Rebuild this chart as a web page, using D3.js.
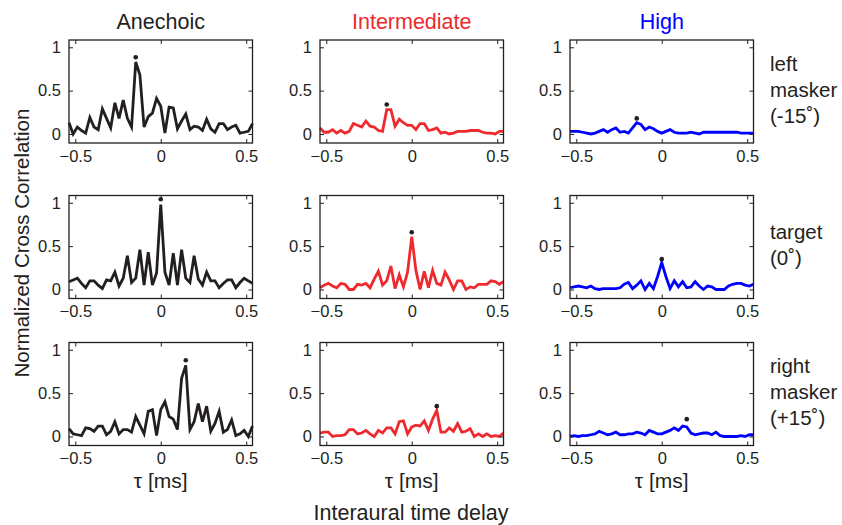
<!DOCTYPE html>
<html lang="en">
<head>
<meta charset="utf-8">
<style>
  body { margin: 0; background: white; }
  svg { font-family: 'Liberation Sans', Arial, sans-serif; fill: #231f20; }
  .frame { fill: none; stroke: #231f20; stroke-width: 1.3px; }
  .axis path { display: none; }
  .axis line { stroke: #231f20; stroke-width: 1px; }
  .axis text { font-size: 16.5px; fill: #231f20; font-family: 'Liberation Sans', Arial, sans-serif; }
  .trace { fill: none; stroke-width: 2.8px; stroke-linejoin: miter; }
</style>
</head>
<body>
<svg width="842" height="525"></svg>
<script src="https://d3js.org/d3.v7.min.js"></script>
<script>
// lag in samples, one sample = 0.0244 ms
const lagSamples = d3.range(-22, 23)
const msPerSample = 0.0244

const conditions = ["Anechoic", "Intermediate", "High"]
const conditionColors = ["#231f20", "#ee2a2e", "#0000ff"]
const sources = [["left", "masker", "(-15˚)"], ["target", "(0˚)"], ["right", "masker", "(+15˚)"]]

const anechoicLeft = [0.13,0.00,0.08,0.04,0.01,0.19,0.08,0.05,0.29,0.18,0.07,0.36,0.18,0.39,0.18,0.08,0.83,0.68,0.08,0.20,0.24,0.41,
  0.32,0.01,0.31,0.30,0.06,0.15,0.23,0.05,0.09,0.08,0.04,0.17,0.06,0.02,0.12,0.12,0.05,0.08,0.10,0.01,0.02,0.03,0.12]
const anechoicTarget = [0.09,0.11,0.13,0.07,0.02,0.10,0.10,0.05,0.01,0.11,0.10,0.20,0.04,0.13,0.39,0.08,0.13,0.46,0.05,0.43,0.05,0.19,
  0.98,0.20,0.05,0.42,0.05,0.46,0.13,0.08,0.39,0.12,0.05,0.20,0.10,0.10,0.02,0.07,0.11,0.11,0.02,0.08,0.13,0.10,0.07]
const anechoicRight = [0.09,0.03,0.02,0.01,0.10,0.09,0.06,0.12,0.12,0.02,0.06,0.17,0.03,0.08,0.08,0.05,0.23,0.13,0.03,0.29,0.31,0.01,
  0.31,0.40,0.23,0.20,0.08,0.67,0.82,0.08,0.17,0.38,0.17,0.35,0.06,0.15,0.29,0.05,0.08,0.19,0.01,0.03,0.07,0.00,0.12]

const intermediateLeft = [0.07,0.02,0.02,0.05,0.01,0.04,0.01,0.03,0.12,0.10,0.08,0.15,0.09,0.08,0.04,0.03,0.28,0.28,0.09,0.17,0.13,0.10,
  0.10,0.05,0.12,0.12,0.04,0.05,0.07,0.01,0.02,0.00,0.01,0.03,0.03,0.03,0.04,0.04,0.04,0.02,0.01,0.01,0.00,0.03,0.03]
const intermediateTarget = [0.02,0.05,0.07,0.04,0.02,0.07,0.06,0.00,0.00,0.06,0.05,0.07,0.02,0.12,0.21,0.05,0.10,0.27,0.01,0.17,0.03,0.20,
  0.61,0.22,0.00,0.21,0.02,0.22,0.07,0.05,0.20,0.11,0.00,0.10,0.10,0.00,0.03,0.02,0.06,0.06,0.06,0.10,0.09,0.06,0.09]
const intermediateRight = [0.04,0.05,0.05,0.00,0.01,0.01,0.02,0.08,0.08,0.03,0.04,0.07,0.03,0.00,0.07,0.04,0.10,0.10,0.03,0.17,0.18,0.03,
  0.11,0.13,0.12,0.18,0.07,0.20,0.30,0.05,0.05,0.10,0.06,0.15,0.05,0.06,0.09,0.00,0.03,0.00,0.03,0.00,0.01,0.00,0.04]

const highLeft = [0.03,0.03,0.03,0.02,0.01,0.00,0.01,0.03,0.05,0.02,0.05,0.07,0.02,0.03,0.01,0.07,0.13,0.11,0.05,0.08,0.06,0.03,
  0.01,0.03,0.05,0.02,0.01,0.01,0.01,0.02,0.01,0.00,0.02,0.02,0.02,0.02,0.02,0.02,0.02,0.02,0.02,0.01,0.01,0.01,0.01]
const highTarget = [0.02,0.03,0.04,0.03,0.02,0.04,0.01,0.00,0.01,0.01,0.01,0.01,0.02,0.06,0.08,0.01,0.05,0.10,0.00,0.07,0.01,0.15,
  0.31,0.15,0.01,0.10,0.03,0.09,0.02,0.03,0.09,0.04,0.00,0.04,0.03,0.00,0.00,0.00,0.04,0.06,0.07,0.07,0.05,0.04,0.06]
const highRight = [0.00,0.01,0.00,0.01,0.01,0.02,0.03,0.06,0.04,0.02,0.03,0.05,0.02,0.02,0.03,0.03,0.05,0.04,0.02,0.07,0.05,0.03,
  0.03,0.05,0.07,0.10,0.07,0.12,0.11,0.04,0.02,0.03,0.04,0.04,0.02,0.05,0.01,0.00,0.00,0.00,0.00,0.01,0.00,0.02,0.02]

// rows = source, columns = room condition
const traces = [
  [anechoicLeft, intermediateLeft, highLeft],
  [anechoicTarget, intermediateTarget, highTarget],
  [anechoicRight, intermediateRight, highRight]
]
const peakLag = [-6, 0, 6]
const peakMarks = [[0.885, 0.34, 0.18], [1.04, 0.66, 0.35], [0.88, 0.35, 0.20]]

const xTicks = [-0.5, 0, 0.5]
const yTicks = [0, 0.5, 1]

const colLeft = [69, 320, 570]
const rowTop = [40, 195.5, 342.5]
const panelW = 183.5, panelH = 103

const svg = d3.select("svg")
svg.append("rect").attr("width", 842).attr("height", 525).attr("fill", "white")

const xDomain = [-22 * msPerSample, 22 * msPerSample]

traces.forEach(function (row, r) {
  row.forEach(function (values, c) {
    const x = d3.scaleLinear().domain(xDomain).range([0, panelW])
    const y = d3.scaleLinear().domain([-0.104, 1.084]).range([panelH, 0])
    const g = svg.append("g")
      .attr("transform", "translate(" + colLeft[c] + "," + rowTop[r] + ")")

    const line = d3.line()
      .x(function (d, i) { return x(lagSamples[i] * msPerSample) })
      .y(function (d) { return y(d) })

    g.append("path")
      .attr("class", "trace")
      .attr("stroke", conditionColors[c])
      .attr("d", line(values))

    g.append("circle")
      .attr("cx", x(peakLag[r] * msPerSample))
      .attr("cy", y(peakMarks[r][c]))
      .attr("r", 2.3)
      .attr("fill", "#231f20")

    g.append("g").attr("class", "axis")
      .attr("transform", "translate(0," + panelH + ")")
      .call(d3.axisBottom(x).tickValues(xTicks).tickSizeInner(-4).tickSizeOuter(0).tickPadding(7)
        .tickFormat(function (d) { return d === 0 ? "0" : (d < 0 ? "\u2212" : "") + Math.abs(d) }))
    g.append("g").attr("class", "axis")
      .call(d3.axisTop(x).tickValues(xTicks).tickSizeInner(-4).tickSizeOuter(0).tickFormat(""))
    g.append("g").attr("class", "axis")
      .call(d3.axisLeft(y).tickValues(yTicks).tickSizeInner(-4).tickSizeOuter(0).tickPadding(8)
        .tickFormat(function (d) { return d === 0 ? "0" : String(d) }))
    g.append("g").attr("class", "axis")
      .attr("transform", "translate(" + panelW + ",0)")
      .call(d3.axisRight(y).tickValues(yTicks).tickSizeInner(-4).tickSizeOuter(0).tickFormat(""))

    g.append("rect").attr("class", "frame")
      .attr("width", panelW).attr("height", panelH)
  })
})

// column titles
conditions.forEach(function (name, c) {
  svg.append("text")
    .attr("x", colLeft[c] + panelW / 2).attr("y", 28.5)
    .attr("text-anchor", "middle")
    .attr("font-size", "21.5px")
    .attr("fill", conditionColors[c])
    .text(name)
  svg.append("text")
    .attr("x", colLeft[c] + panelW / 2).attr("y", 488)
    .attr("text-anchor", "middle")
    .attr("font-size", "21px")
    .text("τ [ms]")
})

// row labels
sources.forEach(function (lines, r) {
  const mid = rowTop[r] + panelH / 2 + 5
  lines.forEach(function (s, i) {
    svg.append("text")
      .attr("x", 770)
      .attr("y", mid + (i - (lines.length - 1) / 2) * 26)
      .attr("font-size", "20.5px")
      .text(s)
  })
})

svg.append("text")
  .attr("transform", "translate(29,243) rotate(-90)")
  .attr("text-anchor", "middle")
  .attr("font-size", "20.5px")
  .text("Normalized Cross Correlation")

svg.append("text")
  .attr("x", 411).attr("y", 520)
  .attr("text-anchor", "middle")
  .attr("font-size", "21.5px")
  .text("Interaural time delay")
</script>
</body>
</html>
